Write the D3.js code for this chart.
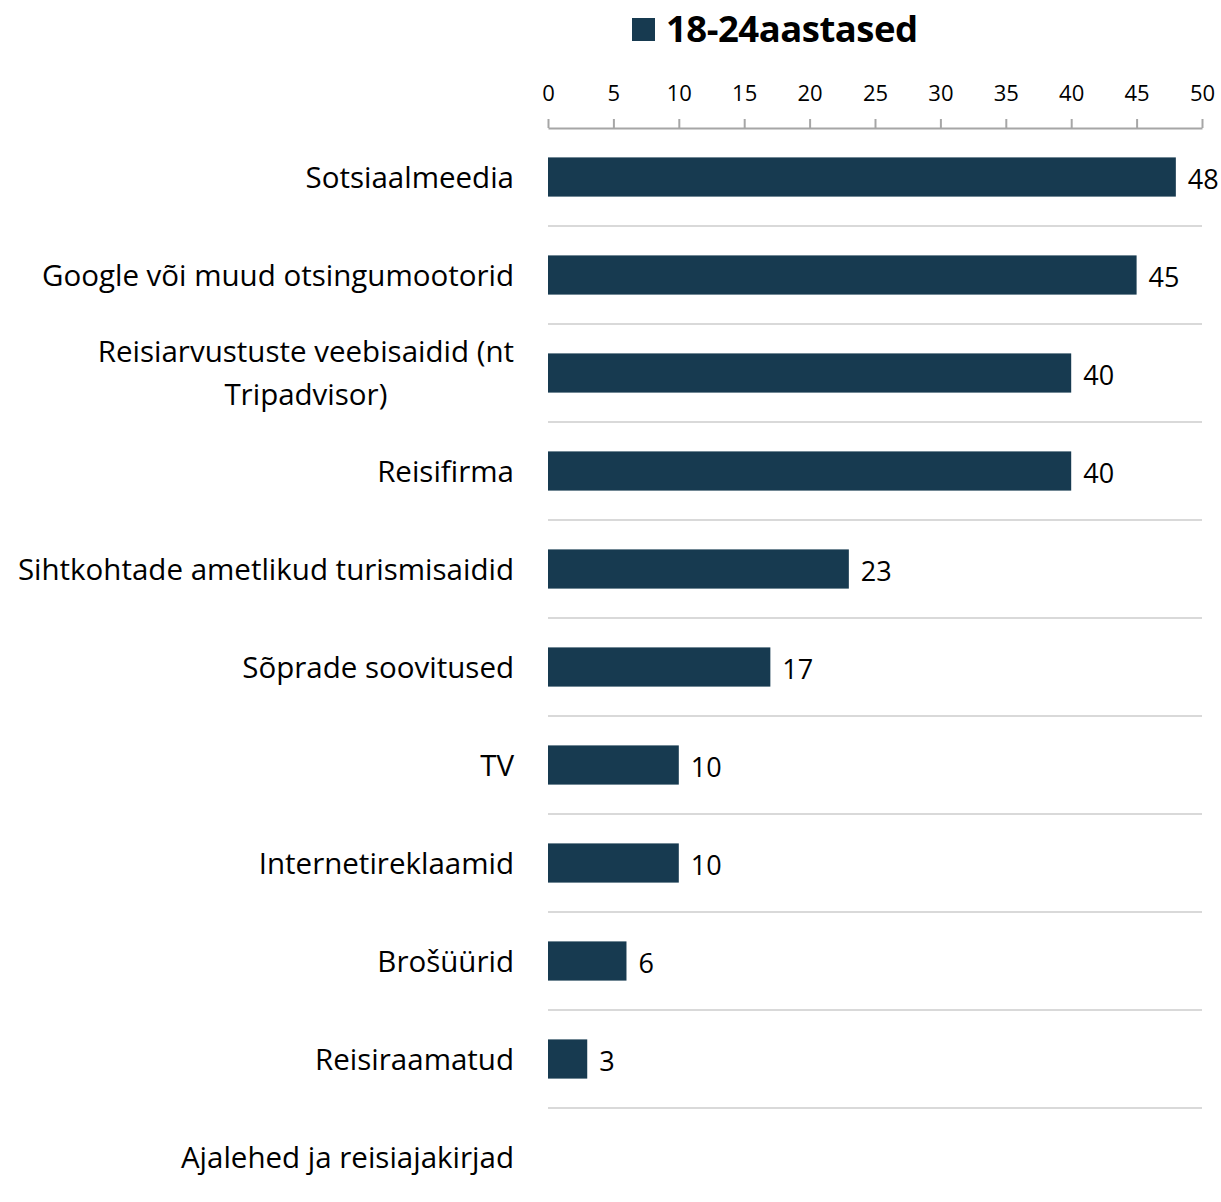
<!DOCTYPE html>
<html>
<head>
<meta charset="utf-8">
<script src="https://cdn.jsdelivr.net/npm/d3@7"></script>
<style>
  html, body { margin: 0; padding: 0; background: #fff; }
  svg { display: block; font-family: "Open Sans", "Noto Sans", sans-serif; }
</style>
</head>
<body>
<svg id="chart" width="1221" height="1202"></svg>
<script>
// Information sources used by 18-24 year olds (%)
const seriesName = "18-24aastased";
const categories = [
  "Sotsiaalmeedia",
  "Google või muud otsingumootorid",
  "Reisiarvustuste veebisaidid (nt Tripadvisor)",
  "Reisifirma",
  "Sihtkohtade ametlikud turismisaidid",
  "Sõprade soovitused",
  "TV",
  "Internetireklaamid",
  "Brošüürid",
  "Reisiraamatud",
  "Ajalehed ja reisiajakirjad"
];
const values = [48, 45, 40, 40, 23, 17, 10, 10, 6, 3, null];
const tickValues = [0, 5, 10, 15, 20, 25, 30, 35, 40, 45, 50];

const barColor = "#173a50";
const labelSize = 29.5;
const svg = d3.select("#chart");

const x = d3.scaleLinear().domain([0, 50]).range([548, 1202]);
const y = d3.scaleBand().domain(categories).range([128, 1206])
  .paddingInner(0.6).paddingOuter(0.3);

// Legend
const legend = svg.append("g");
legend.append("rect").attr("x", 632).attr("y", 18).attr("width", 23).attr("height", 23)
  .attr("fill", barColor);
legend.append("text").attr("x", 666).attr("y", 42)
  .attr("font-size", 36.5).attr("font-weight", 700).attr("fill", "#000")
  .style("letter-spacing", "-0.5px")
  .text(seriesName);

// Top axis
const axis = d3.axisTop(x).tickValues(tickValues).tickSize(9).tickPadding(18).tickSizeOuter(0);
const axisG = svg.append("g").attr("transform", "translate(0,128)").call(axis);
axisG.select(".domain").attr("stroke", "#a6a6a6").attr("stroke-width", 2);
axisG.selectAll(".tick line").attr("stroke", "#a6a6a6").attr("stroke-width", 2);
axisG.selectAll(".tick text").attr("font-size", 22).attr("fill", "#000")
  .attr("font-family", "\"Open Sans\", sans-serif");

// Separators between categories
const step = y.step();
svg.append("g").selectAll("line")
  .data(categories.slice(0, -1))
  .join("line")
  .attr("x1", x(0)).attr("x2", x(50))
  .attr("y1", d => y(d) + y.bandwidth() / 2 + step / 2)
  .attr("y2", d => y(d) + y.bandwidth() / 2 + step / 2)
  .attr("stroke", "#d9d9d9").attr("stroke-width", 2);

// Bars
const data = categories.map((c, i) => ({ c, v: values[i] }));
svg.append("g").selectAll("rect")
  .data(data.filter(d => d.v != null))
  .join("rect")
  .attr("x", x(0))
  .attr("y", d => y(d.c))
  .attr("width", d => x(d.v) - x(0))
  .attr("height", y.bandwidth())
  .attr("fill", barColor);

// Value labels
svg.append("g").selectAll("text")
  .data(data.filter(d => d.v != null))
  .join("text")
  .attr("x", d => x(d.v) + 12)
  .attr("y", d => y(d.c) + y.bandwidth() / 2 + 2)
  .attr("dy", "0.36em")
  .attr("font-size", 27).attr("fill", "#000")
  .text(d => d.v);

// Category labels (long ones wrap onto two centred lines)
const labelX = 514;
const labelG = svg.append("g");
categories.forEach(c => {
  const cy = y(c) + y.bandwidth() / 2;
  if (c.length > 40) {
    const words = c.split(" ");
    const line1 = words.slice(0, 3).join(" ");
    const line2 = words.slice(3).join(" ");
    const t = labelG.append("text").attr("font-size", labelSize).attr("fill", "#000")
      .attr("x", labelX).attr("y", cy - 22).attr("dy", "0.36em")
      .attr("text-anchor", "end").text(line1);
    const w = t.node().getComputedTextLength();
    labelG.append("text").attr("font-size", labelSize).attr("fill", "#000")
      .attr("x", labelX - w / 2).attr("y", cy + 21).attr("dy", "0.36em")
      .attr("text-anchor", "middle").text(line2);
  } else {
    labelG.append("text").attr("font-size", labelSize).attr("fill", "#000")
      .attr("x", labelX).attr("y", cy).attr("dy", "0.36em")
      .attr("text-anchor", "end").text(c);
  }
});
</script>
</body>
</html>
